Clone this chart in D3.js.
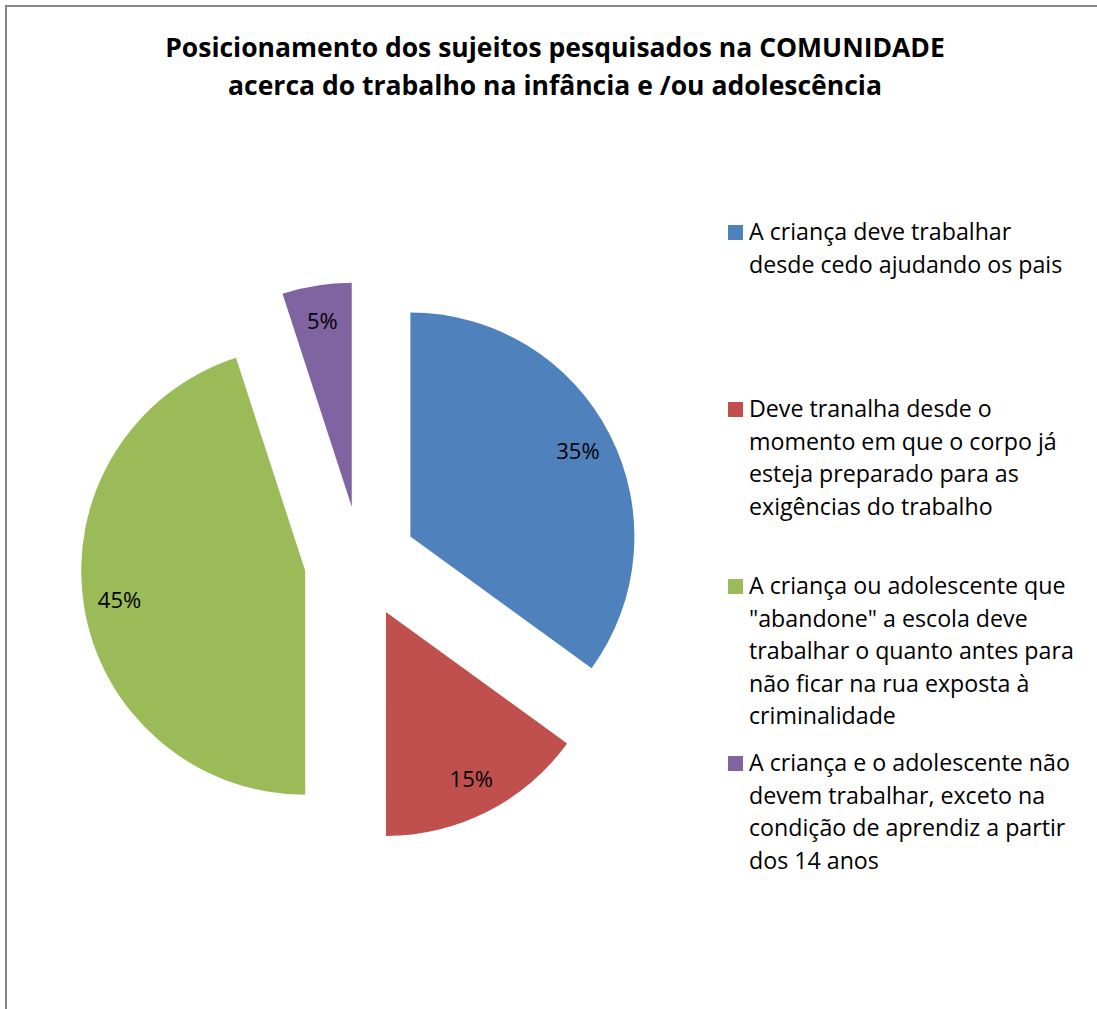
<!DOCTYPE html>
<html>
<head>
<meta charset="utf-8">
<script src="https://cdn.jsdelivr.net/npm/d3@7"></script>
<style>
  body { margin: 0; background: #fff; }
  svg { display: block; }
</style>
</head>
<body>
<svg width="1097" height="1009"></svg>
<script>
// chart data
let categories = [
  ['A criança deve trabalhar', 'desde cedo ajudando os pais'],
  ['Deve tranalha desde o', 'momento em que o corpo já', 'esteja preparado para as', 'exigências do trabalho'],
  ['A criança ou adolescente que', '"abandone" a escola deve', 'trabalhar o quanto antes para', 'não ficar na rua exposta à', 'criminalidade'],
  ['A criança e o adolescente não', 'devem trabalhar, exceto na', 'condição de aprendiz a partir', 'dos 14 anos']
]
let values = [35, 15, 45, 5]
let colors = ['#4F81BD', '#C0504D', '#9BBB59', '#8064A2']
let titleLines = ['Posicionamento dos sujeitos pesquisados na COMUNIDADE', 'acerca do trabalho na infância e /ou adolescência']

var svg = d3.select("svg");

// chart border
svg.append('path')
  .attr('d', 'M6,1009 V6 H1097')
  .attr('fill', 'none')
  .attr('stroke', '#868686')
  .attr('stroke-width', 2)

// title
svg.append('g')
  .selectAll('text')
  .data(titleLines)
  .enter()
  .append('text')
  .attr('x', 555)
  .attr('y', (d, i) => 57 + i *38)
  .attr('text-anchor', 'middle')
  .style('font-family', '"Open Sans", sans-serif')
  .style('font-weight', 'bold')
  .style('font-size', '26.5px')
  .attr('fill', '#000')
  .text(d => d)

let cx = 360.5, cy = 562, radius = 224, explode = 56

let pie = d3.pie().sort(null).value(d => d)
let arcs = pie(values)
let arc = d3.arc().innerRadius(0).outerRadius(radius)
let labelArc = d3.arc().innerRadius(188).outerRadius(188)

let total = d3.sum(values)
let fmt = d3.format('.0%')

let slices = svg.append('g')
  .attr('transform', `translate(${cx},${cy})`)
  .selectAll('g')
  .data(arcs)
  .enter()
  .append('g')
  .attr('transform', (d) => {
    let mid = (d.startAngle + d.endAngle) / 2
    return `translate(${explode * Math.sin(mid)},${-explode * Math.cos(mid)})`
  })

slices.append('path')
  .attr('d', arc)
  .attr('fill', (d, i) => colors[i])

slices.append('text')
  .attr('transform', d => `translate(${labelArc.centroid(d)})`)
  .attr('text-anchor', 'middle')
  .attr('dy', '0.36em')
  .style('font-family', '"Open Sans", sans-serif')
  .style('font-size', '22px')
  .attr('fill', '#000')
  .text(d => fmt(d.value / total))

// legend
let legendTops = [240, 417, 594, 771]
let legend = svg.append('g')
  .selectAll('g')
  .data(categories)
  .enter()
  .append('g')
  .attr('transform', (d, i) => `translate(728,${legendTops[i]})`)

legend.append('rect')
  .attr('x', 0)
  .attr('y', -15)
  .attr('width', 15)
  .attr('height', 15)
  .attr('fill', (d, i) => colors[i])

legend.append('text')
  .style('font-family', '"Open Sans", sans-serif')
  .style('font-size', '23.2px')
  .attr('fill', '#000')
  .selectAll('tspan')
  .data(d => d)
  .enter()
  .append('tspan')
  .attr('x', 21)
  .attr('y', (d, i) => i * 32.5)
  .text(d => d)
</script>
</body>
</html>
